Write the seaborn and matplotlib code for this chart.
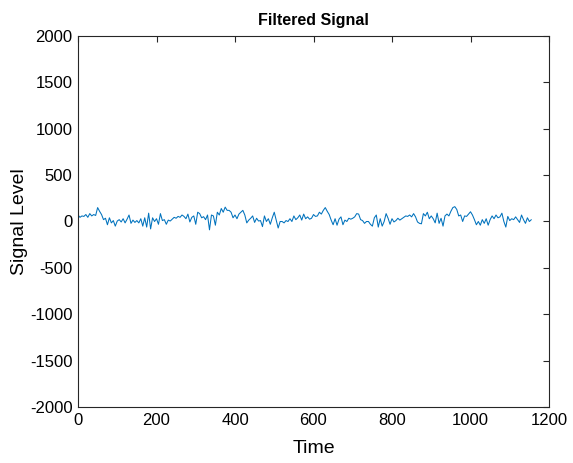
import numpy as np
import pandas as pd
import matplotlib
matplotlib.use("Agg")
import matplotlib.pyplot as plt
import seaborn as sns

# Sample spacing of the filtered trace (time units)
step = 5

signal_level = [
    70, 45, 60, 55, 75, 45, 85, 60, 75, 65,
    150, 110, 75, 20, 35, -35, 40, -15, 10, -50,
    5, 20, -5, 30, -15, 25, 70, -20, 15, -10,
    10, -15, 30, -50, 40, -60, 90, -80, 40, 0,
    30, -30, 85, 10, 20, -30, 15, 5, 25, 45,
    35, 55, 45, 70, 55, 30, 80, -5, 45, 60,
    -30, 100, 85, 40, 52, 20, 70, -90, 70, 60,
    -40, 100, 70, 140, 100, 155, 120, 120, 100, 40,
    70, 30, 80, 100, 120, 70, -15, 15, 35, 60,
    -10, 35, 5, 10, -55, 60, 0, 30, -30, 40,
    100, 15, -70, 0, 0, -15, 10, 0, 30, 0,
    60, 20, 40, 70, 15, 80, 30, 50, 25, 35,
    75, 55, 60, 100, 80, 120, 150, 110, 75, 15,
    -35, 30, -40, 25, 50, -35, 15, 0, 35, 25,
    35, 50, 85, 80, 20, 10, -20, 0, 0, -30,
    -50, 40, 70, -60, 30, -50, 0, 85, 35, -30,
    30, -5, 10, 35, 15, 30, 45, 60, 55, 70,
    50, 85, 50, -5, -20, -25, 85, 60, 100, 30,
    60, 30, -15, 90, -20, 35, -50, 60, 80, 60,
    110, 150, 160, 130, 60, 70, 0, 60, 55, 80,
    105, 70, 20, -35, 0, -40, 20, -20, 30, -40,
    20, 60, 30, 70, 40, 50, 90, 0, -60, 55,
    10, 30, 20, 50, 20, -10, 70, 20, -20, 40,
    0, 20,
]

time = np.arange(len(signal_level)) * step
df = pd.DataFrame({"Time": time, "Signal Level": signal_level})

x_ticks = [0, 200, 400, 600, 800, 1000, 1200]
y_ticks = [-2000, -1500, -1000, -500, 0, 500, 1000, 1500, 2000]

sns.set_theme(style="white")
plt.rcParams["font.family"] = ["Liberation Sans", "DejaVu Sans"]
plt.rcParams["axes.unicode_minus"] = False

fig = plt.figure(figsize=(5.73, 4.63), dpi=100)
ax = fig.add_axes([78 / 573, 1 - 407 / 463, (549 - 78) / 573, (407 - 36) / 463])

sns.lineplot(data=df, x="Time", y="Signal Level", ax=ax,
             color="#0072BD", linewidth=0.75)

ax.set_xlim(0, 1200)
ax.set_ylim(-2000, 2000)
ax.set_xticks(x_ticks)
ax.set_yticks(y_ticks)

edge = "#262626"
for s in ax.spines.values():
    s.set_color(edge)
    s.set_linewidth(0.8)
ax.tick_params(direction="in", length=4, width=0.8, colors=edge,
               labelsize=12, pad=4, top=True, right=True,
               labeltop=False, labelright=False)
for lab in ax.get_xticklabels() + ax.get_yticklabels():
    lab.set_color("black")

ax.set_xlabel("Time", fontsize=14, color="black", labelpad=9)
ax.set_ylabel("Signal Level", fontsize=14, color="black", labelpad=1)
ax.set_title("Filtered Signal", fontsize=11.5, fontweight="bold",
             color="black", pad=8)

fig.savefig("out.png", dpi=100, facecolor="white")
